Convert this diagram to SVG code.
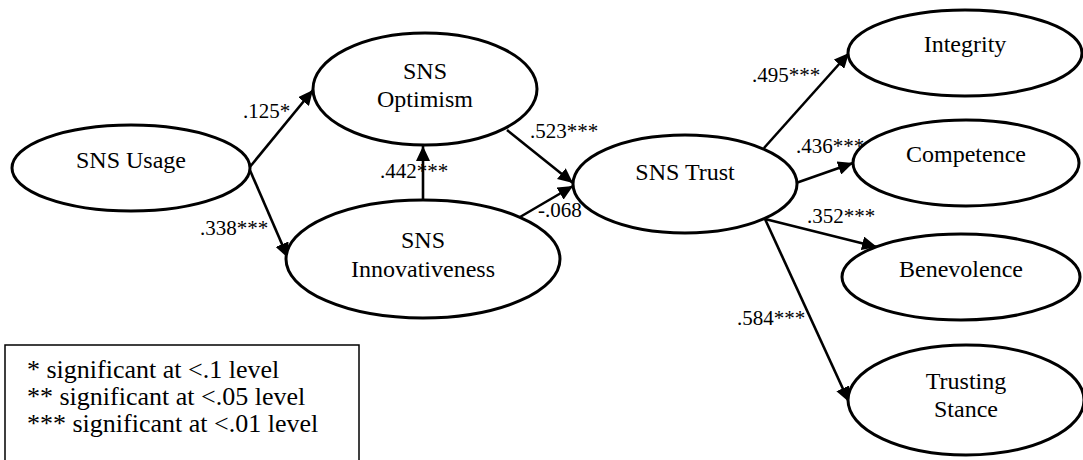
<svg xmlns="http://www.w3.org/2000/svg" width="1083" height="460" viewBox="0 0 1083 460">
<style>
text{font-family:"Times New Roman","Liberation Serif",Tinos,"DejaVu Serif",serif}
.node ellipse{fill:#fff;stroke:#000;stroke-width:3}
.node text{font-size:24px;text-anchor:middle;fill:#000}
.conn line{stroke:#000;stroke-width:2.6;marker-end:url(#ah)}
.lbl{font-size:21px;fill:#000}
.leg{font-size:26px;fill:#000}
</style>
<defs>
<marker id="ah" markerUnits="userSpaceOnUse" markerWidth="16" markerHeight="14" refX="15" refY="7" orient="auto">
<path d="M0,0 L15,7 L0,14 z" fill="#000"/>
</marker>
</defs>
<rect width="1083" height="460" fill="#fff"/>

<g class="conn">
<line x1="249" y1="168" x2="313" y2="90"/>
<line x1="249" y1="168" x2="288" y2="258"/>
<line x1="423" y1="200" x2="423" y2="146"/>
<line x1="507" y1="130" x2="573" y2="183"/>
<line x1="520" y1="217" x2="573" y2="186"/>
<line x1="764" y1="148" x2="849" y2="53"/>
<line x1="796" y1="183" x2="853" y2="163"/>
<line x1="765" y1="219" x2="877" y2="247"/>
<line x1="765" y1="219" x2="849" y2="402"/>
</g>

<g id="sns-usage" class="node">
<ellipse cx="131" cy="168" rx="119" ry="43"/>
<text x="131" y="168">SNS Usage</text>
</g>
<g id="sns-optimism" class="node">
<ellipse cx="425" cy="89" rx="112" ry="56"/>
<text x="425" y="79">SNS</text>
<text x="425" y="107">Optimism</text>
</g>
<g id="sns-innovativeness" class="node">
<ellipse cx="423" cy="259" rx="137" ry="59"/>
<text x="423" y="248">SNS</text>
<text x="423" y="277">Innovativeness</text>
</g>
<g id="sns-trust" class="node">
<ellipse cx="685" cy="184" rx="112" ry="49"/>
<text x="685" y="180">SNS Trust</text>
</g>
<g id="integrity" class="node">
<ellipse cx="965" cy="53" rx="117" ry="43"/>
<text x="965" y="52">Integrity</text>
</g>
<g id="competence" class="node">
<ellipse cx="966" cy="163" rx="113" ry="43"/>
<text x="966" y="162">Competence</text>
</g>
<g id="benevolence" class="node">
<ellipse cx="961" cy="277" rx="119" ry="43"/>
<text x="961" y="277">Benevolence</text>
</g>
<g id="trusting-stance" class="node">
<ellipse cx="966" cy="400" rx="118" ry="55"/>
<text x="966" y="389">Trusting</text>
<text x="966" y="417">Stance</text>
</g>

<g id="labels">
<text class="lbl" x="243" y="118">.125*</text>
<text class="lbl" x="200" y="235">.338***</text>
<text class="lbl" x="380" y="178">.442***</text>
<text class="lbl" x="530" y="138">.523***</text>
<text class="lbl" x="538" y="217">-.068</text>
<text class="lbl" x="752" y="82">.495***</text>
<text class="lbl" x="796" y="153">.436***</text>
<text class="lbl" x="807" y="223">.352***</text>
<text class="lbl" x="737" y="325">.584***</text>
</g>

<g id="legend">
<rect x="5" y="345" width="354" height="125" fill="none" stroke="#000" stroke-width="1.5"/>
<text class="leg" x="27" y="378">* significant at &lt;.1 level</text>
<text class="leg" x="27" y="405">** significant at &lt;.05 level</text>
<text class="leg" x="27" y="432">*** significant at &lt;.01 level</text>
</g>
</svg>
